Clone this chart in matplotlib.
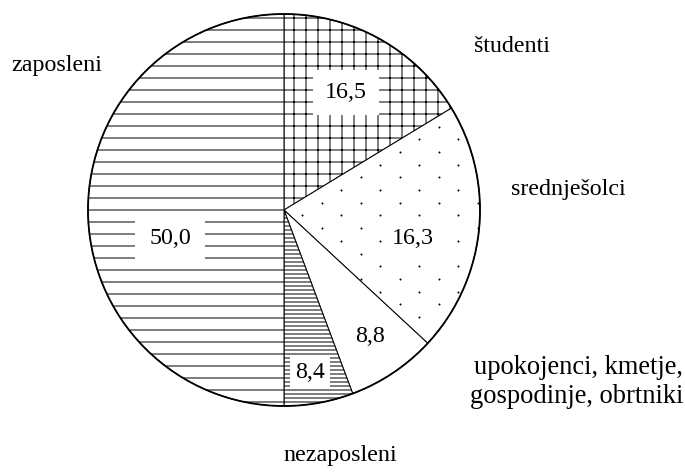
import matplotlib.pyplot as plt
import numpy as np
from matplotlib.patches import Circle

plt.rcParams['font.family'] = ['Liberation Serif', 'DejaVu Serif']
plt.rcParams['hatch.linewidth'] = 1.0

# Podatki s slike (od vrha v smeri urinega kazalca)
kategorije = ["študenti", "srednješolci", "upokojenci, kmetje,\ngospodinje, obrtniki",
              "nezaposleni", "zaposleni"]
odstotki = ["16,5", "16,3", "8,8", "8,4", "50,0"]
# deleži, kot so izrisani na sliki (ročna risba ni povsem točna)
narisani_delezi = [16.3, 20.6, 7.4, 5.7, 50.0]
vzorci = ["+", "", "", "---", "-"]

W, H = 685, 473
cx, cy, r = 284, H - 210, 196

fig = plt.figure(figsize=(W / 72, H / 72), dpi=72)
ax = fig.add_axes([0, 0, 1, 1])

klini, _ = ax.pie(narisani_delezi, startangle=90, counterclock=False,
                  center=(cx, cy), radius=r, hatch=vzorci,
                  colors=["white"] * len(narisani_delezi),
                  wedgeprops=dict(edgecolor="black", linewidth=1.0))

# redke pike v izseku "srednješolci"
gx, gy = np.meshgrid(np.arange(cx - r, cx + r, 39.0), np.arange(cy - r, cy + r, 12.7))
gx = gx + (np.arange(gx.shape[0])[:, None] % 2) * 19.5
pike = ax.scatter(gx.ravel(), gy.ravel(), s=4, color="black", linewidths=0, zorder=3)
pike.set_clip_path(klini[1])

# zunanji rob
ax.add_patch(Circle((cx, cy), r, fill=False, edgecolor="black", linewidth=1.8, zorder=4))

ax.set_xlim(0, W)
ax.set_ylim(0, H)
ax.set_aspect("equal")
ax.axis("off")

# številke v izsekih
polozaji_stevilk = [(346, 92), (413, 238), (370, 337), (310, 372), (170, 238)]
robovi = [0.5, 0.3, 0.3, 0.2, 0.6]
for (x, y), t, p in zip(polozaji_stevilk, odstotki, robovi):
    ax.text(x, H - y, t, fontsize=24, ha="center", va="center", zorder=5,
            bbox=dict(boxstyle=f"square,pad={p}", facecolor="white", edgecolor="none"))

# opisi izsekov
ax.text(474, H - 47, kategorije[0], fontsize=24, ha="left", va="center")
ax.text(511, H - 190, kategorije[1], fontsize=24, ha="left", va="center")
ax.text(683, H - 382, kategorije[2], fontsize=26.5, ha="right", va="center",
        multialignment="right", linespacing=1.25)
ax.text(340, H - 455, kategorije[3], fontsize=24, ha="center", va="center")
ax.text(11, H - 65, kategorije[4], fontsize=24, ha="left", va="center")

fig.savefig("out.png", dpi=72)
